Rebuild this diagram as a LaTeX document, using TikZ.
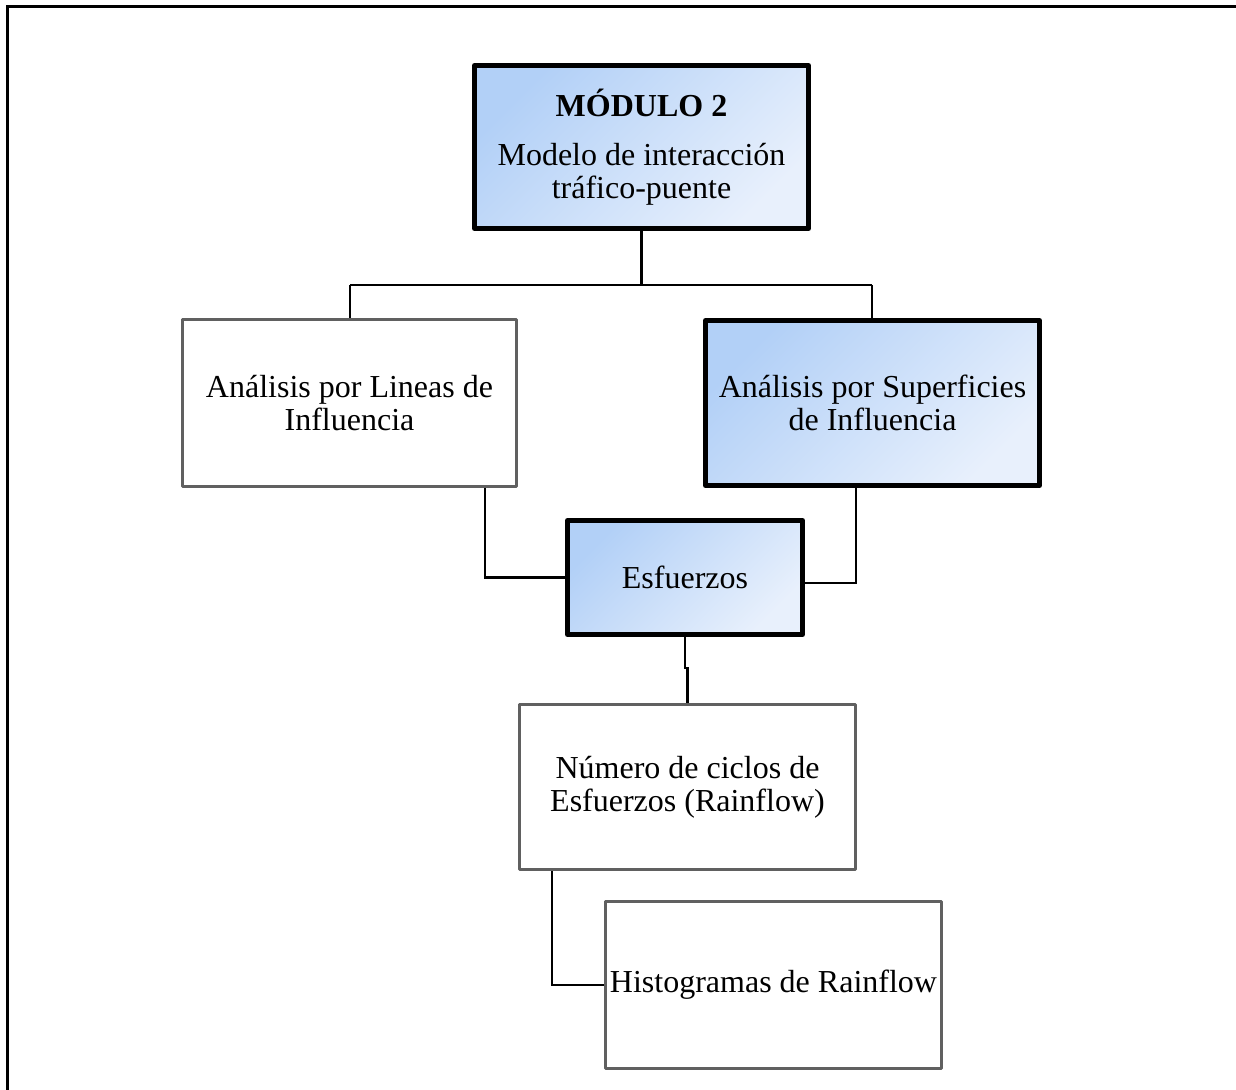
\documentclass[tikz,border=0pt]{standalone}
\usepackage{fontspec}
\setmainfont{Liberation Serif}
\usetikzlibrary{calc}
\definecolor{shadeA}{RGB}{178,208,247}
\definecolor{shadeB}{RGB}{232,240,252}
\definecolor{plainedge}{RGB}{96,96,96}
\tikzset{
  boxbase/.style={rectangle, align=center, inner sep=2pt, line join=round,
    font=\fontsize{16}{16.5}\selectfont},
  keybox/.style={boxbase, draw=black, line width=2.5pt,
    top color=shadeA, bottom color=shadeB, shading angle=45},
  plainbox/.style={boxbase, draw=plainedge, line width=1.5pt, fill=white},
  link/.style={draw=black, line width=1.2pt},
  frameline/.style={draw=black, line width=1.5pt}
}
\begin{document}
\begin{tikzpicture}[x=0.5pt, y=-0.5pt]
  \useasboundingbox (0,0) rectangle (1236,1090);

  % outer frame
  \draw[frameline] (7,1090) -- (7,7) -- (1236,7);

  % boxes
  \node[keybox, minimum width=167pt, minimum height=81.5pt] (mod) at (641.5,147)
    {\textbf{MÓDULO 2}\\[8pt]Modelo de interacción\\tráfico-puente};
  \node[plainbox, minimum width=167pt, minimum height=83.5pt] (lin) at (349.5,403)
    {Análisis por Lineas de\\Influencia};
  \node[keybox, minimum width=167pt, minimum height=82.5pt] (sup) at (872.5,403)
    {Análisis por Superficies\\de Influencia};
  \node[keybox, minimum width=117.5pt, minimum height=57pt] (esf) at (685,577.5)
    {Esfuerzos};
  \node[plainbox, minimum width=168pt, minimum height=82.5pt] (num) at (687.5,787)
    {Número de ciclos de\\Esfuerzos (Rainflow)};
  \node[plainbox, minimum width=168pt, minimum height=83.5pt] (his) at (773.5,985)
    {Histogramas de Rainflow};

  % branching from the module box
  \coordinate (bl) at (350,285);
  \coordinate (br) at (872,285);
  \draw[link] (mod.south) -- (mod.south |- bl);
  \draw[link] (bl) -- (br);
  \draw[link] (bl) -- (bl |- lin.north);
  \draw[link] (br) -- (br |- sup.north);

  % both analyses feed the stresses box
  \draw[link] ($(lin.south east)+(-33,0)$) |- (esf.west);
  \coordinate (sr) at (856,583);
  \draw[link] ($(sup.south west)+(153,0)$) -- (sr) -- (sr -| esf.east);

  % stresses to cycle counting
  \coordinate (jog) at (687.5,668);
  \draw[link] (esf.south) -- ++(0,31) -- (jog) -- (num.north);

  % cycle counting to histograms
  \draw[link] ($(num.south west)+(34,0)$) |- (his.west);
\end{tikzpicture}
\end{document}
